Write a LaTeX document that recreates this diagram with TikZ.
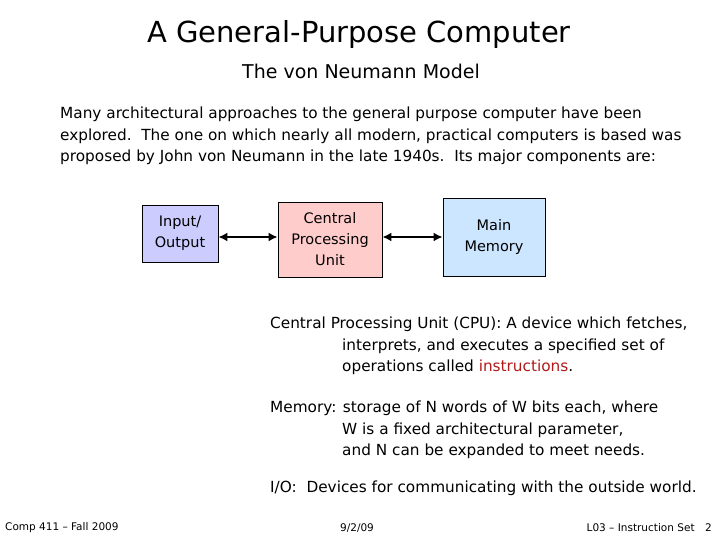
\documentclass[tikz,border=0pt]{standalone}
\usepackage{fontspec}
\setmainfont{DejaVu Sans}
\usetikzlibrary{arrows.meta}
\begin{document}
\begin{tikzpicture}[x=1pt,y=-1pt,
  box/.style={draw,thick,align=center,font=\fontsize{14.5}{21}\selectfont,inner sep=0pt},
  txt/.style={anchor=west,font=\fontsize{15.3}{21.3}\selectfont,inner sep=0pt,align=left},
  foot/.style={font=\fontsize{10.5}{12}\selectfont,inner sep=0pt},
  dar/.style={{Latex[length=9pt,width=9pt]}-{Latex[length=9pt,width=9pt]},line width=1.8pt}]
\useasboundingbox (0,0) rectangle (720,540);
\node[font=\fontsize{29}{34}\selectfont] (title) at (359,35) {A General-Purpose Computer};
\node[font=\fontsize{19}{22}\selectfont] (sub) at (361,71) {The von Neumann Model};
\node[txt,anchor=north west] (para) at (60,107) {Many architectural approaches to the general purpose computer have been\\explored.\ \ The one on which nearly all modern, practical computers is based was\\proposed by John von Neumann in the late 1940s.\ \ Its major components are:};
\node[box,fill={rgb,255:red,204;green,204;blue,255},minimum width=76pt,minimum height=57pt] (io) at (180,233.5) {Input/\\Output};
\node[box,fill={rgb,255:red,255;green,204;blue,204},minimum width=104pt,minimum height=75pt] (cpu) at (330,239.5) {Central\\Processing\\Unit};
\node[box,fill={rgb,255:red,204;green,230;blue,255},minimum width=102pt,minimum height=78pt] (mem) at (494,237) {Main\\Memory};
\draw[dar] (io.east|-0,237) -- (cpu.west|-0,237);
\draw[dar] (cpu.east|-0,237) -- (mem.west|-0,237);
\node[txt,anchor=north west] (t1) at (270,317) {Central Processing Unit (CPU): A device which fetches,\\\hspace{72pt}interprets, and executes a specified set of\\\hspace{72pt}operations called \textcolor[rgb]{0.7,0.1,0.1}{instructions}.};
\node[txt,anchor=north west] (t2) at (270,401) {Memory: storage of N words of W bits each, where\\\hspace{72pt}W is a fixed architectural parameter,\\\hspace{72pt}and N can be expanded to meet needs.};
\node[txt] (t3) at (270,488) {I/O:\ \ Devices for communicating with the outside world.};
\node[foot,anchor=west] (f1) at (5,528) {Comp 411 -- Fall 2009};
\node[foot] (f2) at (357,528) {9/2/09};
\node[foot,anchor=east] (f3) at (712,528) {L03 -- Instruction Set\quad 2};
\end{tikzpicture}
\end{document}
